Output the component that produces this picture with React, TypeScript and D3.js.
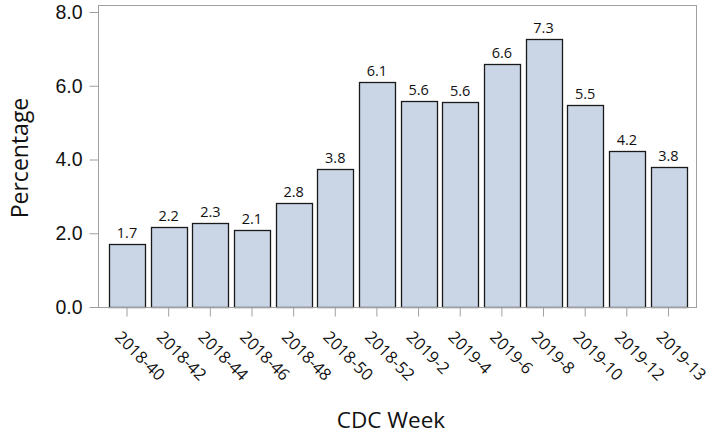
import { useEffect, useRef } from "react";
import * as d3 from "d3";

// ─── Data ────────────────────────────────────────────────────────────────────
const weeks = [
  "2018-40", "2018-42", "2018-44", "2018-46", "2018-48", "2018-50", "2018-52",
  "2019-2", "2019-4", "2019-6", "2019-8", "2019-10", "2019-12", "2019-13",
];
const percentages = [
  1.72, 2.17, 2.28, 2.09, 2.81, 3.75, 6.11, 5.58, 5.56, 6.58, 7.26, 5.47, 4.24, 3.8,
];
const yTicks = [0, 2, 4, 6, 8];

const WIDTH = 714;
const HEIGHT = 436;

export default function App() {
  const svgRef = useRef<SVGSVGElement>(null);

  useEffect(() => {
    if (!svgRef.current) return;
    const svg = d3.select(svgRef.current);
    svg.selectAll("*").remove();

    // ── Frame / scales ───────────────────────────────────────────────────
    const frame = { left: 98.5, right: 696.5, top: 5.5, bottom: 307.5 };

    const x = d3
      .scaleBand<string>()
      .domain(weeks)
      .range([106.2, 689.3])
      .paddingInner(0.14)
      .paddingOuter(0.07);

    const y = d3.scaleLinear().domain([0, 8]).range([307, 12]);

    const rows = weeks.map((w, i) => ({ w, v: percentages[i] }));

    // ── Bars ─────────────────────────────────────────────────────────────
    svg
      .append("g")
      .selectAll("rect")
      .data(rows)
      .enter()
      .append("rect")
      .attr("x", (d) => Math.round(x(d.w)!) + 0.5)
      .attr("y", (d) => Math.round(y(d.v)) + 0.5)
      .attr("width", Math.round(x.bandwidth()))
      .attr("height", (d) => y(0) - Math.round(y(d.v)))
      .attr("fill", "#cad5e5")
      .attr("stroke", "#1a1a1a")
      .attr("stroke-width", 1.3);

    // ── Bar value labels ─────────────────────────────────────────────────
    svg
      .append("g")
      .selectAll("text")
      .data(rows)
      .enter()
      .append("text")
      .attr("x", (d) => x(d.w)! + x.bandwidth() / 2)
      .attr("y", (d) => y(d.v) - 6)
      .attr("text-anchor", "middle")
      .attr("font-family", "Open Sans, sans-serif")
      .attr("font-size", 14.5)
      .attr("fill", "#111")
      .text((d) => d.v.toFixed(1));

    // ── Frame ────────────────────────────────────────────────────────────
    svg
      .append("rect")
      .attr("x", frame.left)
      .attr("y", frame.top)
      .attr("width", frame.right - frame.left)
      .attr("height", frame.bottom - frame.top)
      .attr("fill", "none")
      .attr("stroke", "#a0a0a0")
      .attr("stroke-width", 1);

    // ── Y axis ───────────────────────────────────────────────────────────
    const yAxis = svg
      .append("g")
      .attr("transform", `translate(${frame.left},0)`)
      .call(
        d3
          .axisLeft(y)
          .tickValues(yTicks)
          .tickSize(9)
          .tickPadding(7)
          .tickFormat((d) => (d as number).toFixed(1))
      );
    yAxis.select(".domain").remove();
    yAxis.selectAll("line").attr("stroke", "#a0a0a0");
    yAxis
      .selectAll("text")
      .attr("font-family", "Liberation Sans, Arial, sans-serif")
      .attr("font-size", 19.5)
      .attr("fill", "#111");

    // ── X axis ───────────────────────────────────────────────────────────
    const xAxis = svg
      .append("g")
      .attr("transform", `translate(0,${frame.bottom})`)
      .call(d3.axisBottom(x).tickSize(9).tickFormat(() => ""));
    xAxis.select(".domain").remove();
    xAxis.selectAll("line").attr("stroke", "#a0a0a0");

    svg
      .append("g")
      .selectAll("text")
      .data(weeks)
      .enter()
      .append("text")
      .attr(
        "transform",
        (d) => `translate(${x(d)! + x.bandwidth() / 2 - 13},338) rotate(45)`
      )
      .attr("text-anchor", "start")
      .attr("font-family", "Open Sans, sans-serif")
      .attr("font-size", 16.5)
      .attr("fill", "#111")
      .text((d) => d);

    // ── Axis titles ──────────────────────────────────────────────────────
    svg
      .append("text")
      .attr("x", 391)
      .attr("y", 428)
      .attr("text-anchor", "middle")
      .attr("font-family", "Open Sans, sans-serif")
      .attr("font-size", 22.5)
      .attr("fill", "#111")
      .text("CDC Week");

    svg
      .append("text")
      .attr("transform", "translate(28,158) rotate(-90)")
      .attr("text-anchor", "middle")
      .attr("font-family", "Open Sans, sans-serif")
      .attr("font-size", 23)
      .attr("fill", "#111")
      .text("Percentage");
  }, []);

  return (
    <svg
      ref={svgRef}
      width={WIDTH}
      height={HEIGHT}
      viewBox={`0 0 ${WIDTH} ${HEIGHT}`}
      style={{ position: "absolute", left: 0, top: 0, background: "#fff" }}
    />
  );
}
